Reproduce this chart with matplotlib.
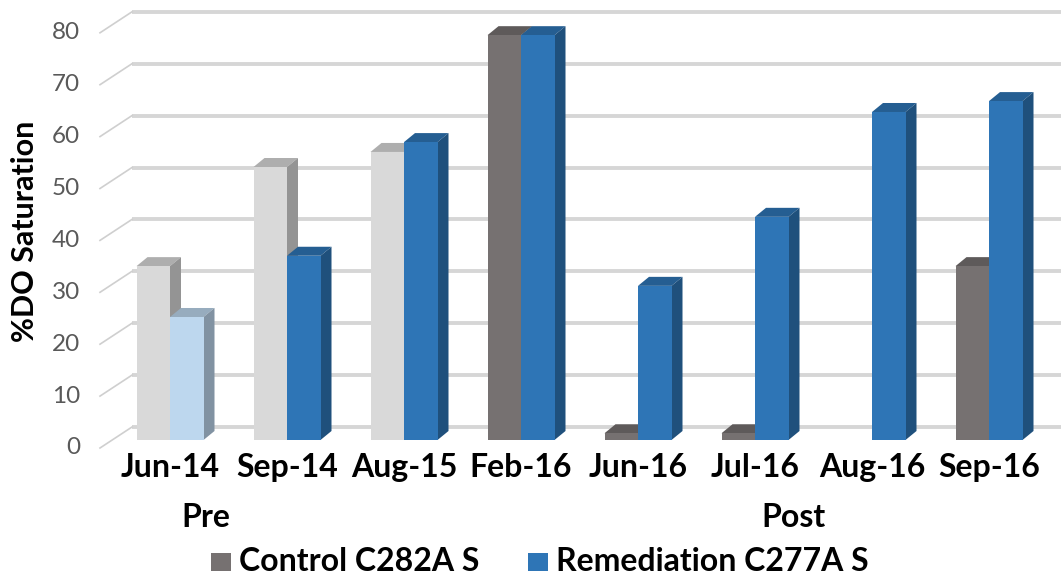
import matplotlib
matplotlib.use("Agg")
import matplotlib.pyplot as plt
from matplotlib.patches import Polygon, Rectangle
import numpy as np

# ---------------- data ----------------
categories = ["Jun-14", "Sep-14", "Aug-15", "Feb-16", "Jun-16", "Jul-16", "Aug-16", "Sep-16"]
control = [33.5, 52.6, 55.5, 78.0, 1.3, 1.3, 0.0, 33.5]
remediation = [23.7, 35.5, 57.4, 78.0, 29.7, 43.0, 63.2, 65.3]
series_names = ["Control C282A S", "Remediation C277A S"]
y_ticks = [0, 10, 20, 30, 40, 50, 60, 70, 80]
group_labels = ["Pre", "Post"]
y_title = "%DO Saturation"

# ---------------- styles ----------------
control_colors = ["#D9D9D9", "#D9D9D9", "#D9D9D9", "#767171", "#767171", "#767171", "#767171", "#767171"]
remed_colors = ["#BDD7EE", "#2E75B6", "#2E75B6", "#2E75B6", "#2E75B6", "#2E75B6", "#2E75B6", "#2E75B6"]
legend_colors = ["#767171", "#2E75B6"]
FONT = ["Lato", "DejaVu Sans"]

W_PX, H_PX = 1061, 580
CAT_PX, X0_PX = 117.0, 170.0      # px per category, centre of first category
UNIT_PX, BASE_PX = 5.19, 440.0     # px per value unit, bar base


def shade(hexcol, f):
    c = np.array(matplotlib.colors.to_rgb(hexcol)) * f
    return tuple(np.clip(c, 0, 1))


fig = plt.figure(figsize=(W_PX / 100, H_PX / 100), dpi=100)
ax = fig.add_axes([0, 0, 1, 1])
ax.set_xlim((0 - X0_PX) / CAT_PX, (W_PX - X0_PX) / CAT_PX)
ax.set_ylim((BASE_PX - H_PX) / UNIT_PX, BASE_PX / UNIT_PX)
ax.axis("off")

px_x = lambda p: (p - X0_PX) / CAT_PX
px_dy = lambda p: p / UNIT_PX

# back-wall gridlines and left-wall diagonals
back_dy = px_dy(13)
front_dy = px_dy(-8)
wall_x0, wall_x1 = px_x(100), px_x(132)
for v in y_ticks:
    ax.plot([wall_x1, ax.get_xlim()[1]], [v + back_dy, v + back_dy], color="#D6D6D6",
            lw=2.8, solid_capstyle="butt", zorder=1)
    ax.plot([wall_x0, wall_x1], [v + front_dy, v + back_dy], color="#CFCFCF",
            lw=1.2, zorder=1)
    ax.text(px_x(80), v + front_dy, str(v), ha="right", va="center",
            fontsize=17.5, color="#595959", family=FONT)

# bars (front via ax.bar, top and side faces as parallelograms)
w = 33.5 / CAT_PX
dx = 11 / CAT_PX
dy = px_dy(9)
x = np.arange(len(categories))
for vals, cols, off in [(control, control_colors, -w), (remediation, remed_colors, 0.0)]:
    lefts = x + off
    for xl, v, c in zip(lefts, vals, cols):
        if v <= 0:
            continue
        top = Polygon([(xl, v), (xl + w, v), (xl + w + dx, v + dy), (xl + dx, v + dy)],
                      closed=True, facecolor=shade(c, 0.8), edgecolor="none", zorder=3)
        side = Polygon([(xl + w, 0), (xl + w, v), (xl + w + dx, v + dy), (xl + w + dx, dy)],
                       closed=True, facecolor=shade(c, 0.68), edgecolor="none", zorder=3)
        ax.add_patch(top)
        ax.add_patch(side)
    ax.bar(lefts, vals, width=w, align="edge", color=cols, edgecolor="none", zorder=3)

# category labels
for xi, lab in zip(x, categories):
    ax.text(xi, px_dy(BASE_PX - 477), lab, ha="center", va="baseline",
            fontsize=23, fontweight="bold", color="black", family=FONT)

# group labels
for lab, gx in zip(group_labels, [206, 793]):
    fig.text(gx / W_PX, 1 - 527 / H_PX, lab, ha="center", va="baseline",
             fontsize=23, fontweight="bold", color="black", family=FONT)

# y title
fig.text(25 / W_PX, 1 - 231 / H_PX, y_title, rotation=90, ha="center", va="center",
         fontsize=22, fontweight="bold", color="black", family=FONT)

# legend
for name, col, sx in zip(series_names, legend_colors, [211, 528]):
    fig.patches.append(Rectangle((sx / W_PX, 1 - 571 / H_PX), 20 / W_PX, 18 / H_PX,
                                 transform=fig.transFigure, facecolor=col,
                                 edgecolor="none"))
    fig.text((sx + 28) / W_PX, 1 - 571 / H_PX, name, ha="left", va="baseline",
             fontsize=23, fontweight="bold", color="black", family=FONT)

fig.savefig("out.png", dpi=100)
